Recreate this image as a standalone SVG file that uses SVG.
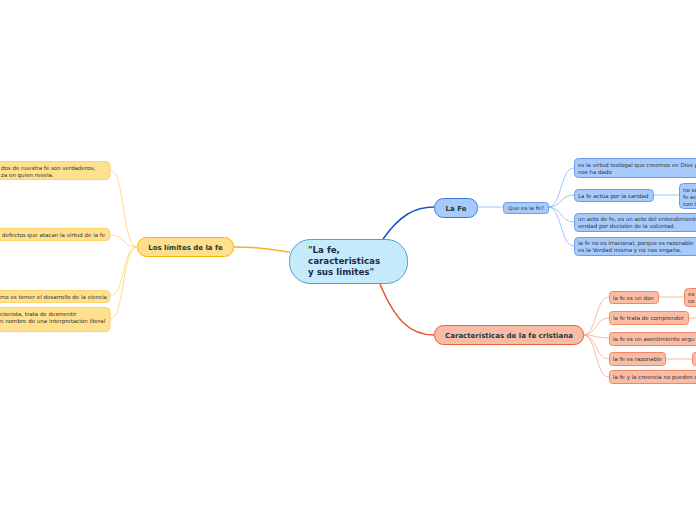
<svg xmlns="http://www.w3.org/2000/svg" width="696" height="520" viewBox="0 0 696 520">
<style>
text{font-family:"DejaVu Sans",Verdana,sans-serif;}
.leaf{font-size:5.5px;fill:#333;}
.y{fill:#ffe08e;stroke:#ffd36b;stroke-width:1;}
.b{fill:#a6cafc;stroke:#6e9ae6;stroke-width:1;}
.r{fill:#fbbca6;stroke:#f08868;stroke-width:1;}
.main{font-size:7px;font-weight:bold;fill:#1e3a3a;}
.cy{fill:none;stroke:#ffd36b;stroke-width:0.8;}
.cb{fill:none;stroke:#8ab4f5;stroke-width:0.8;}
.cr{fill:none;stroke:#f7a68b;stroke-width:0.8;}
.ct{font-size:8.7px;font-weight:bold;fill:#1b2a4e;}
</style>
<rect width="696" height="520" fill="#ffffff"/>
<g id="connectors">
<path d="M290,252 C260,248 255,247 233,247" fill="none" stroke="#f5b324" stroke-width="1.5"/>
<path d="M383,239 C400,215 415,207 434,207" fill="none" stroke="#1558c8" stroke-width="1.5"/>
<path d="M380,284 C395,320 410,335 434,335" fill="none" stroke="#e8552c" stroke-width="1.5"/>
<path d="M137,247 C122,247 125,170 110,170" class="cy"/>
<path d="M137,247 C122,247 125,235 110,235" class="cy"/>
<path d="M137,247 C122,247 125,296 110,296" class="cy"/>
<path d="M137,247 C122,247 125,319 110,319" class="cy"/>
<path d="M477,207 L503,207" class="cb"/>
<path d="M548,207 C562,207 560,168 574,168" class="cb"/>
<path d="M548,207 C562,207 560,195 574,195" class="cb"/>
<path d="M548,207 C562,207 560,222 574,222" class="cb"/>
<path d="M548,207 C562,207 560,246 574,246" class="cb"/>
<path d="M653,195 L679,195" class="cb"/>
<path d="M583,335 C597,335 595,297 609,297" class="cr"/>
<path d="M583,335 C597,335 595,318 609,318" class="cr"/>
<path d="M583,335 C597,335 595,338 609,338" class="cr"/>
<path d="M583,335 C597,335 595,359 609,359" class="cr"/>
<path d="M583,335 C597,335 595,377 609,377" class="cr"/>
<path d="M658,297 L684,297" class="cr"/>
<path d="M688,318 L696,318" class="cr"/>
<path d="M665,359 L692,359" class="cr"/>
</g>
<g id="central">
<rect x="289.5" y="239.5" width="118" height="44" rx="21" fill="#c5ebfb" stroke="#4a9fd6" stroke-width="1"/>
<text x="308" y="253" class="ct">"La fe,</text>
<text x="308" y="264" class="ct">caracteristicas</text>
<text x="308" y="275" class="ct">y sus limites"</text>
</g>
<g id="limites">
<rect x="137.5" y="237.5" width="96" height="19" rx="9" fill="#ffdf8c" stroke="#f5b800" stroke-width="1"/>
<text x="185.5" y="249.5" class="main" text-anchor="middle">Los límites de la fe</text>
</g>
<g id="l1">
<rect x="-10" y="161.5" width="120" height="18" rx="4" class="y"/>
<text x="1" y="169.5" class="leaf">dos de nuestra fe son verdaderos,</text>
<text x="1" y="176.5" class="leaf">za en quien revela.</text>
</g>
<g id="l2">
<rect x="-10" y="228.5" width="120" height="12" rx="4" class="y"/>
<text x="2" y="236.5" class="leaf">defectos que atacan la virtud de la fe</text>
</g>
<g id="l3">
<rect x="-10" y="290.5" width="120" height="12" rx="4" class="y"/>
<text x="0" y="298.5" class="leaf">mo es temer el desarrollo de la ciencia</text>
</g>
<g id="l4">
<rect x="-10" y="307.5" width="120" height="24" rx="4" class="y"/>
<text x="0" y="316" class="leaf">cionista, trata de desmentir</text>
<text x="0" y="323" class="leaf">n nombre de una interpretación literal</text>
</g>
<g id="lafe">
<rect x="434.5" y="198.5" width="43" height="19" rx="9" fill="#a6cafc" stroke="#3b7de0" stroke-width="1"/>
<text x="456" y="210.5" class="main" text-anchor="middle">La Fe</text>
</g>
<g id="quees">
<rect x="503.5" y="202.5" width="45" height="11" rx="3" class="b"/>
<text x="526" y="210" class="leaf" text-anchor="middle">Que es la fe?</text>
</g>
<g id="b1">
<rect x="574.5" y="158.5" width="130" height="19" rx="4" class="b"/>
<text x="578" y="166.5" class="leaf">es la virtud teologal que creemos en Dios y</text>
<text x="578" y="173.5" class="leaf">nos ha dado</text>
</g>
<g id="b2">
<rect x="574.5" y="189.5" width="79" height="12" rx="4" class="b"/>
<text x="578" y="197.5" class="leaf">La fe actúa por la caridad</text>
</g>
<g id="b3">
<rect x="679.5" y="183.5" width="30" height="25" rx="4" class="b"/>
<text x="683" y="191.5" class="leaf">no se</text>
<text x="683" y="198.5" class="leaf">fe ac</text>
<text x="683" y="205.5" class="leaf">con l</text>
</g>
<g id="b4">
<rect x="574.5" y="213.5" width="130" height="18" rx="4" class="b"/>
<text x="578" y="221" class="leaf">un acto de fe, es un acto del entendimiento</text>
<text x="578" y="228" class="leaf">verdad por decisión de la voluntad.</text>
</g>
<g id="b5">
<rect x="574.5" y="237.5" width="130" height="18" rx="4" class="b"/>
<text x="578" y="245" class="leaf">la fe no es irracional, porque es razonable</text>
<text x="578" y="252" class="leaf">es la Verdad misma y no nos engaña.</text>
</g>
<g id="caract">
<rect x="434.5" y="325.5" width="149" height="19" rx="9" fill="#f9bba5" stroke="#e8603a" stroke-width="1"/>
<text x="509" y="337.5" class="main" text-anchor="middle">Características de la fe cristiana</text>
</g>
<g id="r1">
<rect x="609.5" y="291.5" width="49" height="12" rx="3" class="r"/>
<text x="613" y="299.5" class="leaf">la fe es un don</text>
</g>
<g id="r2">
<rect x="684.5" y="288.5" width="30" height="18" rx="4" class="r"/>
<text x="688" y="296" class="leaf">es</text>
<text x="688" y="303" class="leaf">co</text>
</g>
<g id="r3">
<rect x="609.5" y="311.5" width="79" height="13" rx="3" class="r"/>
<text x="613" y="320" class="leaf">la fe trata de comprender</text>
</g>
<g id="r4">
<rect x="609.5" y="332.5" width="100" height="13" rx="3" class="r"/>
<text x="613" y="341" class="leaf">la fe es un asentimiento segu</text>
</g>
<g id="r5">
<rect x="609.5" y="352.5" width="56" height="13" rx="3" class="r"/>
<text x="613" y="361" class="leaf">la fe es razonable</text>
</g>
<g id="r6">
<rect x="692.5" y="352.5" width="20" height="13" rx="3" class="r"/>
</g>
<g id="r7">
<rect x="609.5" y="370.5" width="100" height="13" rx="3" class="r"/>
<text x="613" y="379" class="leaf">la fe y la creencia no pueden e</text>
</g>
</svg>
